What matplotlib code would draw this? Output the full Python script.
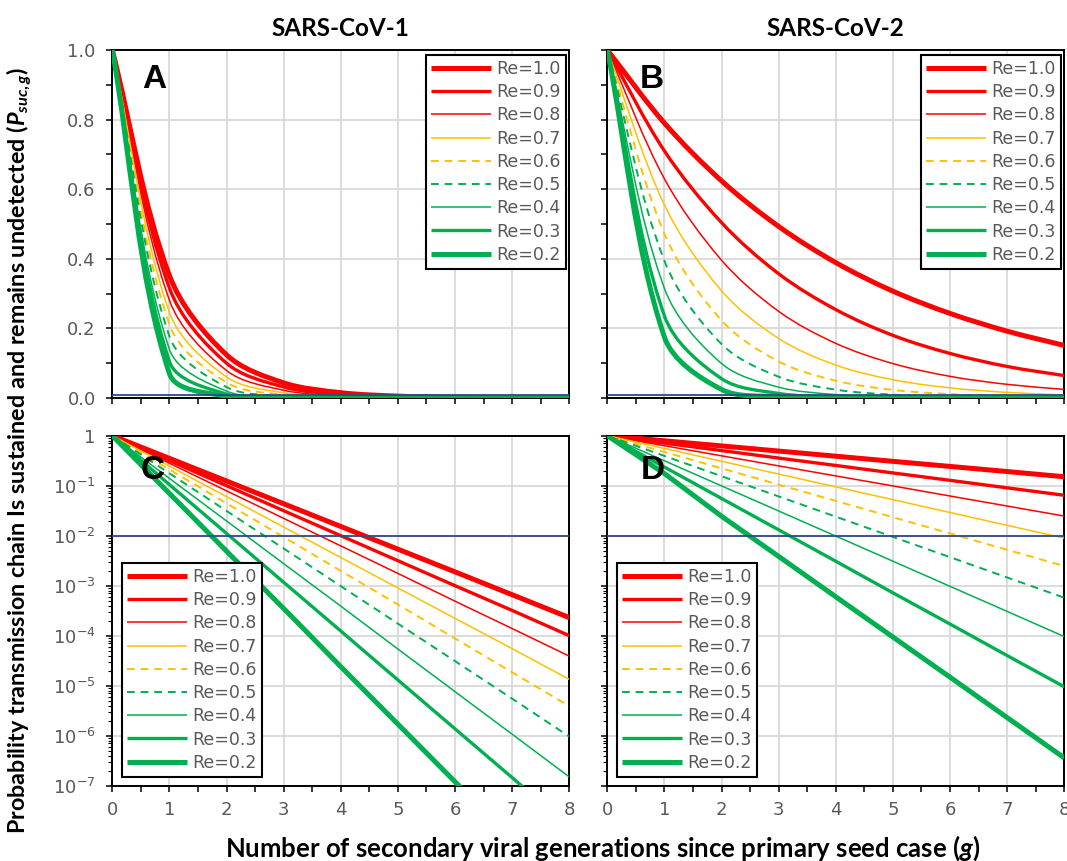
import numpy as np
import matplotlib
matplotlib.use('Agg')
import matplotlib.pyplot as plt
from matplotlib.path import Path
from matplotlib.patches import PathPatch
from matplotlib.lines import Line2D
import matplotlib.ticker as mticker

# ---------------- data ----------------
generations = [0, 1, 2, 3, 4, 5, 6, 7, 8]
re_labels = ['Re=1.0', 'Re=0.9', 'Re=0.8', 'Re=0.7', 'Re=0.6',
             'Re=0.5', 'Re=0.4', 'Re=0.3', 'Re=0.2']

cov1_re10 = [1, 0.352, 0.124, 0.0435, 0.0153, 0.00537, 0.00189, 6.6e-4, 2.3e-4]
cov1_re09 = [1, 0.316, 0.100, 0.0316, 0.0100, 0.00316, 1.0e-3, 3.2e-4, 1.0e-4]
cov1_re08 = [1, 0.281, 0.079, 0.0222, 0.00625, 0.00176, 4.9e-4, 1.39e-4, 3.9e-5]
cov1_re07 = [1, 0.246, 0.0605, 0.0149, 0.00366, 9.0e-4, 2.22e-4, 5.5e-5, 1.34e-5]
cov1_re06 = [1, 0.211, 0.0445, 0.0094, 0.00198, 4.2e-4, 8.8e-5, 1.85e-5, 3.9e-6]
cov1_re05 = [1, 0.177, 0.0313, 0.00555, 9.8e-4, 1.74e-4, 3.1e-5, 5.5e-6, 9.6e-7]
cov1_re04 = [1, 0.140, 0.0197, 0.00276, 3.9e-4, 5.4e-5, 7.6e-6, 1.07e-6, 1.5e-7]
cov1_re03 = [1, 0.105, 0.0111, 0.00117, 1.24e-4, 1.3e-5, 1.37e-6, 1.45e-7, 1.5e-8]
cov1_re02 = [1, 0.070, 0.0049, 3.5e-4, 2.4e-5, 1.7e-6, 1.2e-7, 8.5e-9, 6e-10]

cov2_re10 = [1, 0.790, 0.624, 0.493, 0.389, 0.307, 0.243, 0.192, 0.151]
cov2_re09 = [1, 0.710, 0.504, 0.357, 0.254, 0.180, 0.128, 0.0906, 0.0643]
cov2_re08 = [1, 0.630, 0.396, 0.249, 0.157, 0.0989, 0.0622, 0.0392, 0.0247]
cov2_re07 = [1, 0.555, 0.308, 0.171, 0.0946, 0.0525, 0.0291, 0.0161, 0.00895]
cov2_re06 = [1, 0.472, 0.223, 0.105, 0.0497, 0.0234, 0.0111, 0.00522, 0.00247]
cov2_re05 = [1, 0.394, 0.155, 0.0610, 0.0240, 0.00944, 0.00372, 0.00146, 5.75e-4]
cov2_re04 = [1, 0.315, 0.0991, 0.0312, 0.00982, 0.00309, 9.7e-4, 3.06e-4, 9.6e-5]
cov2_re03 = [1, 0.236, 0.0555, 0.0131, 0.00308, 7.2e-4, 1.71e-4, 4.0e-5, 9.5e-6]
cov2_re02 = [1, 0.175, 0.0245, 0.00385, 6.0e-4, 9.4e-5, 1.48e-5, 2.3e-6, 3.6e-7]

detection_threshold = 0.01

cov1_series = [cov1_re10, cov1_re09, cov1_re08, cov1_re07, cov1_re06,
               cov1_re05, cov1_re04, cov1_re03, cov1_re02]
cov2_series = [cov2_re10, cov2_re09, cov2_re08, cov2_re07, cov2_re06,
               cov2_re05, cov2_re04, cov2_re03, cov2_re02]

# ---------------- styles ----------------
RED, YEL, GRN = '#FF0000', '#FFC000', '#00B050'
colors = [RED, RED, RED, YEL, YEL, GRN, GRN, GRN, GRN]
widths = [3.6, 2.4, 1.1, 1.1, 1.4, 1.4, 1.1, 2.4, 3.6]
DASH = (0, (4, 3))
lstyles = ['-', '-', '-', '-', DASH, DASH, '-', '-', '-']
GRID = '#D9D9D9'
TICKC = '#595959'
THRESH_C = '#2F4A86'

plt.rcParams['mathtext.fontset'] = 'custom'
plt.rcParams['mathtext.it'] = 'Lato:italic:bold'
plt.rcParams['mathtext.rm'] = 'Lato:bold'
plt.rcParams['mathtext.bf'] = 'Lato:bold'

W, H = 1067, 861
fig = plt.figure(figsize=(W / 100, H / 100), dpi=100)


def px_axes(x0, y0, x1, y1):
    return fig.add_axes([x0 / W, 1 - y1 / H, (x1 - x0) / W, (y1 - y0) / H])


axA = px_axes(112.3, 50, 569.3, 398)
axB = px_axes(607.3, 50, 1064.3, 398)
axC = px_axes(112.3, 435.7, 569.3, 785.7)
axD = px_axes(607.3, 435.7, 1064.3, 785.7)


def excel_smooth_path(ax, x, y):
    """Spreadsheet-style smoothed line: Bezier segments whose tangents are
    scaled by neighbouring segment lengths in display space."""
    x0, x1 = ax.get_xlim()
    y0, y1 = ax.get_ylim()
    sx = ax.bbox.width / (x1 - x0)
    sy = ax.bbox.height / (y1 - y0)
    pts = np.column_stack([np.asarray(x, float) * sx, np.asarray(y, float) * sy])
    n = len(pts)
    verts = [pts[0]]
    codes = [Path.MOVETO]
    for i in range(n - 1):
        p1 = pts[i]
        p2 = pts[i + 1]
        p0 = pts[i - 1] if i > 0 else p1
        p3 = pts[i + 2] if i + 2 < n else p2
        d01 = np.hypot(*(p1 - p0))
        d12 = np.hypot(*(p2 - p1))
        d23 = np.hypot(*(p3 - p2))
        f1 = d12 / (d01 + d12) if (d01 + d12) > 0 else 0.0
        f2 = d12 / (d12 + d23) if (d12 + d23) > 0 else 0.0
        c1 = p1 + (p2 - p0) * f1 / 3.0
        c2 = p2 - (p3 - p1) * f2 / 3.0
        verts += [c1, c2, p2]
        codes += [Path.CURVE4] * 3
    verts = np.array(verts)
    verts[:, 0] /= sx
    verts[:, 1] /= sy
    return Path(verts, codes)


def style_axes(ax, log):
    ax.set_xlim(0, 8)
    ax.xaxis.set_major_locator(mticker.MultipleLocator(1))
    ax.xaxis.set_minor_locator(mticker.MultipleLocator(0.5))
    if log:
        ax.set_yscale('log')
        ax.set_ylim(1e-7, 1)
        ax.yaxis.set_minor_locator(mticker.LogLocator(base=10, subs=np.arange(2, 10), numticks=20))
        ax.yaxis.set_minor_formatter(mticker.NullFormatter())
        ticks = [1e-7, 1e-6, 1e-5, 1e-4, 1e-3, 1e-2, 1e-1, 1]
        ax.yaxis.set_major_locator(mticker.FixedLocator(ticks))
        ax.yaxis.set_major_formatter(mticker.FixedFormatter(
            ['10$^{-7}$', '10$^{-6}$', '10$^{-5}$', '10$^{-4}$', '10$^{-3}$',
             '10$^{-2}$', '10$^{-1}$', '1']))
    else:
        ax.set_ylim(0, 1)
        ax.yaxis.set_major_locator(mticker.MultipleLocator(0.2))
        ax.yaxis.set_minor_locator(mticker.MultipleLocator(0.1))
        ax.yaxis.set_major_formatter(mticker.FormatStrFormatter('%.1f'))
    ax.grid(True, which='major', color=GRID, lw=1.3, zorder=0)
    ax.set_axisbelow(True)
    for s in ax.spines.values():
        s.set_color('black')
        s.set_linewidth(1.4)
    ax.tick_params(which='both', direction='out', color='black',
                   labelsize=13, labelcolor=TICKC, width=1.1, length=4)
    ax.tick_params(axis='y', which='major', pad=8)
    ax.tick_params(axis='x', which='major', pad=7)
    if log:
        ax.tick_params(axis='y', which='minor', length=3, width=0.8)


for ax, log in [(axA, False), (axB, False), (axC, True), (axD, True)]:
    style_axes(ax, log)

plt.rcParams['mathtext.default'] = 'regular'

for ax in (axA, axB):
    ax.tick_params(axis='x', labelbottom=False)
for ax in (axB, axD):
    ax.tick_params(axis='y', labelleft=False)


def draw_linear(ax, series):
    for vals, c, w, ls in zip(series, colors, widths, lstyles):
        p = PathPatch(excel_smooth_path(ax, generations, vals), fill=False,
                      edgecolor=c, lw=w, linestyle=ls, capstyle='butt',
                      joinstyle='round', zorder=3)
        ax.add_patch(p)
    ax.axhline(detection_threshold, color=THRESH_C, lw=1.3, zorder=4)


def draw_log(ax, series):
    for vals, c, w, ls in zip(series, colors, widths, lstyles):
        ax.plot(generations, vals, color=c, lw=w, linestyle=ls,
                solid_capstyle='butt', dash_capstyle='butt', zorder=3)
    ax.axhline(detection_threshold, color=THRESH_C, lw=1.3, zorder=4)


draw_linear(axA, cov1_series)
draw_linear(axB, cov2_series)
draw_log(axC, cov1_series)
draw_log(axD, cov2_series)

handles = [Line2D([0], [0], color=c, lw=w, linestyle=ls, solid_capstyle='butt')
           for c, w, ls in zip(colors, widths, lstyles)]


def add_legend(ax, loc, anchor):
    leg = ax.legend(handles, re_labels, loc=loc, bbox_to_anchor=anchor,
                    borderaxespad=0, fancybox=False, framealpha=1,
                    edgecolor='black', fontsize=12.5, handlelength=3.45,
                    handletextpad=0.3, labelspacing=0.3, borderpad=0.3,
                    labelcolor=TICKC)
    leg.get_frame().set_linewidth(1.5)
    leg.set_zorder(10)


add_legend(axA, 'upper right', (0.993, 0.986))
add_legend(axB, 'upper right', (0.993, 0.986))
add_legend(axC, 'lower left', (0.021, 0.025))
add_legend(axD, 'lower left', (0.021, 0.025))

# panel letters
for ax, letter, gx, yv in [(axA, 'A', 0.73, 0.914), (axB, 'B', 0.78, 0.914),
                           (axC, 'C', 0.71, 0.2), (axD, 'D', 0.80, 0.2)]:
    ax.text(gx, yv, letter, ha='center', va='center', fontsize=24,
            fontweight='bold', family='Liberation Sans', zorder=11)

# titles & axis labels
fig.text(340.8 / W, 1 - 28 / H, 'SARS-CoV-1', ha='center', va='center',
         fontsize=17.5, fontweight='bold', family='Lato')
fig.text(835.8 / W, 1 - 28 / H, 'SARS-CoV-2', ha='center', va='center',
         fontsize=17.5, fontweight='bold', family='Lato')
fig.text(603 / W, 1 - 848 / H,
         'Number of secondary viral generations since primary seed case ($\\mathit{g}$)',
         ha='center', va='center', fontsize=18.5, fontweight='bold', family='Lato')
fig.text(19 / W, 1 - 450 / H,
         'Probability transmission chain Is sustained and remains undetected ($\\mathit{P}_{\\mathit{suc,g}}$)',
         ha='center', va='center', rotation=90, fontsize=16.8, fontweight='bold',
         family='Lato')

fig.savefig('out.png', dpi=100)
